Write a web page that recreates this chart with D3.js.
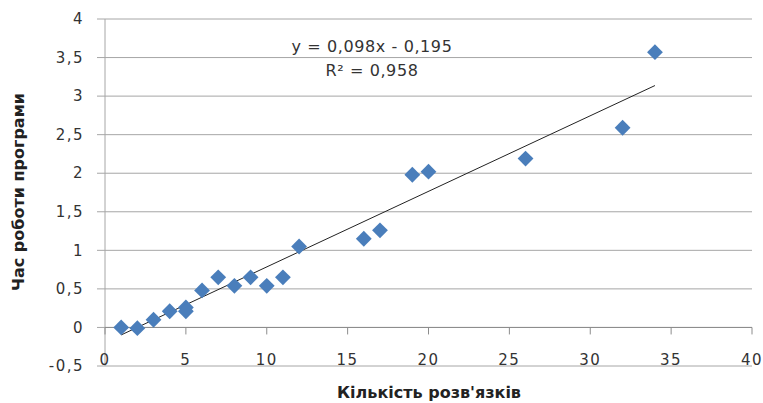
<!DOCTYPE html>
<html>
<head>
<meta charset="utf-8">
<script src="https://cdn.jsdelivr.net/npm/d3@7"></script>
<style>
  body { margin: 0; background: #fff; }
  text { font-family: "DejaVu Sans", Verdana, sans-serif; }
</style>
</head>
<body>
<svg id="chart"></svg>
<script>
// data
const xValues = [1, 2, 3, 4, 5, 5, 6, 7, 8, 9, 10, 11, 12, 16, 17, 19, 20, 26, 32, 34];
const yValues = [0.0, -0.01, 0.1, 0.21, 0.26, 0.21, 0.48, 0.65, 0.54, 0.65, 0.54, 0.65, 1.05, 1.15, 1.26, 1.98, 2.02, 2.19, 2.59, 3.57];
const xTicks = [0, 5, 10, 15, 20, 25, 30, 35, 40];
const yTicks = [-0.5, 0, 0.5, 1, 1.5, 2, 2.5, 3, 3.5, 4];
const trendSlope = 0.098;
const trendIntercept = -0.195;
const trendRange = [1, 34];
const equationText = "y = 0,098x - 0,195";
const r2Text = "R² = 0,958";
const xTitle = "Кількість розв'язків";
const yTitle = "Час роботи програми";

const width = 763, height = 403;
const margin = { top: 19, right: 11, bottom: 37, left: 105 };

const svg = d3.select("#chart").attr("width", width).attr("height", height);

const x = d3.scaleLinear().domain([0, 40]).range([margin.left, width - margin.right]);
const y = d3.scaleLinear().domain([-0.5, 4]).range([height - margin.bottom, margin.top]);

const fmt = (v) => String(v).replace(".", ",");

// horizontal gridlines
svg.append("g")
  .selectAll("line")
  .data(yTicks)
  .join("line")
  .attr("x1", x(0) - 8)
  .attr("x2", x(40))
  .attr("y1", (d) => y(d))
  .attr("y2", (d) => y(d))
  .attr("stroke", "#a6a6a6")
  .attr("stroke-width", 1);

// vertical axis line
svg.append("line")
  .attr("x1", x(0)).attr("x2", x(0))
  .attr("y1", y(4)).attr("y2", y(-0.5))
  .attr("stroke", "#a6a6a6");

// x axis at y = 0
svg.append("line")
  .attr("x1", x(0)).attr("x2", x(40))
  .attr("y1", y(0)).attr("y2", y(0))
  .attr("stroke", "#8c8c8c");

svg.append("g")
  .selectAll("line")
  .data(xTicks)
  .join("line")
  .attr("x1", (d) => x(d)).attr("x2", (d) => x(d))
  .attr("y1", y(0)).attr("y2", y(0) + 7)
  .attr("stroke", "#8c8c8c");

// tick labels
svg.append("g")
  .selectAll("text")
  .data(xTicks)
  .join("text")
  .attr("x", (d) => x(d))
  .attr("y", y(-0.5) - 1)
  .attr("text-anchor", "middle")
  .attr("font-size", 15)
  .attr("letter-spacing", 1.5)
  .attr("fill", "#333")
  .text((d) => fmt(d));

svg.append("g")
  .selectAll("text")
  .data(yTicks)
  .join("text")
  .attr("x", x(0) - 21)
  .attr("y", (d) => y(d))
  .attr("dy", "0.35em")
  .attr("text-anchor", "end")
  .attr("font-size", 15)
  .attr("letter-spacing", 1.5)
  .attr("fill", "#333")
  .text((d) => fmt(d));

// trendline
svg.append("line")
  .attr("x1", x(trendRange[0]))
  .attr("y1", y(trendSlope * trendRange[0] + trendIntercept))
  .attr("x2", x(trendRange[1]))
  .attr("y2", y(trendSlope * trendRange[1] + trendIntercept))
  .attr("stroke", "#222")
  .attr("stroke-width", 1);

// points
const diamond = d3.symbol().type(d3.symbolSquare).size(125)();
svg.append("g")
  .selectAll("path")
  .data(xValues.map((v, i) => [v, yValues[i]]))
  .join("path")
  .attr("d", diamond)
  .attr("transform", (d) => `translate(${x(d[0])},${y(d[1])}) rotate(45)`)
  .attr("fill", "#4a7ebb");

// equation
svg.append("text")
  .attr("x", 372).attr("y", 52)
  .attr("text-anchor", "middle")
  .attr("font-size", 16)
  .attr("letter-spacing", 0.6)
  .attr("fill", "#333")
  .text(equationText);

svg.append("text")
  .attr("x", 372).attr("y", 76)
  .attr("text-anchor", "middle")
  .attr("font-size", 16)
  .attr("letter-spacing", 0.6)
  .attr("fill", "#333")
  .text(r2Text);

// axis titles
svg.append("text")
  .attr("x", 429)
  .attr("y", 398)
  .attr("text-anchor", "middle")
  .attr("font-size", 16)
  .attr("font-weight", "bold")
  .attr("fill", "#222")
  .text(xTitle);

svg.append("text")
  .attr("transform", `translate(24, ${192}) rotate(-90)`)
  .attr("text-anchor", "middle")
  .attr("font-size", 16)
  .attr("font-weight", "bold")
  .attr("fill", "#222")
  .text(yTitle);
</script>
</body>
</html>
